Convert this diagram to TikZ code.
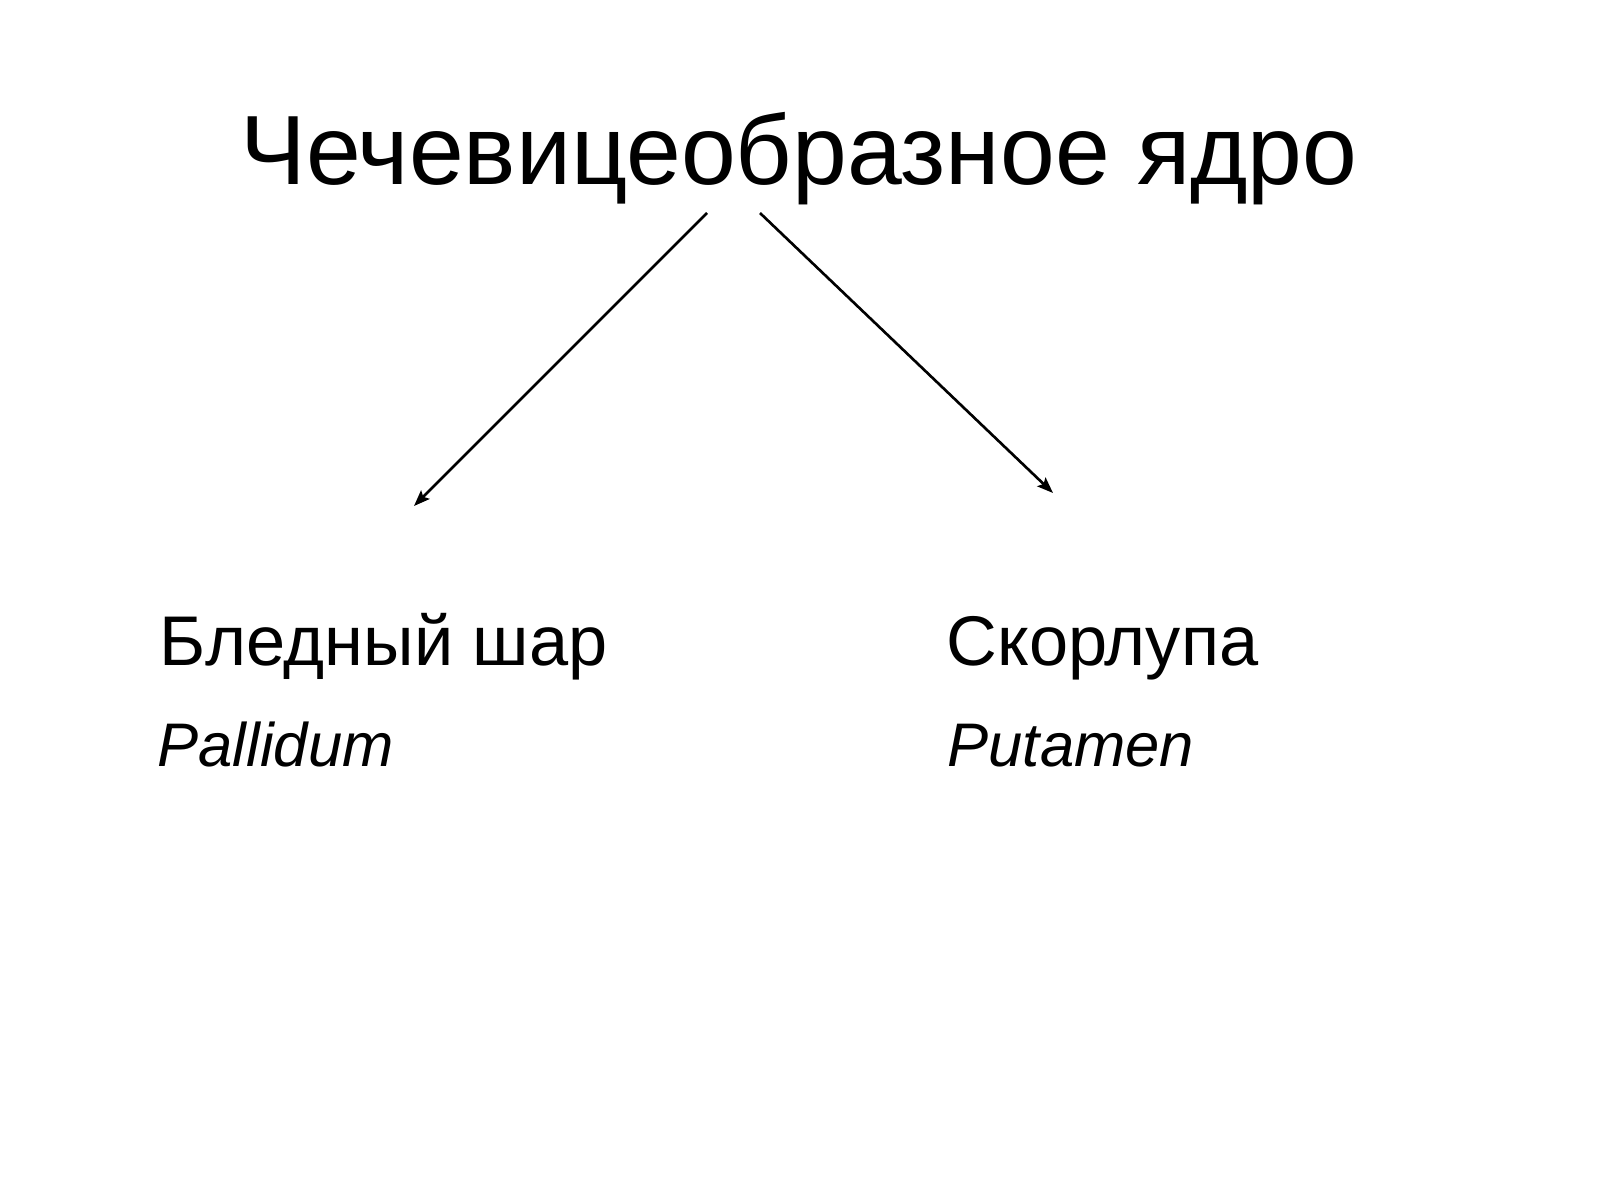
\documentclass[tikz,border=0pt]{standalone}
\usepackage{fontspec}
\setmainfont{Liberation Sans}
\usetikzlibrary{arrows.meta}
\begin{document}
\begin{tikzpicture}[x=0.01cm,y=-0.01cm,
  lbl/.style={inner sep=0pt, anchor=base west, font=\fontsize{20pt}{24pt}\selectfont},
  lat/.style={inner sep=0pt, anchor=base west, font=\fontsize{17.5pt}{21pt}\selectfont\itshape},
  conn/.style={line width=0.75pt, -{Stealth[length=1.6mm,width=1.2mm,inset=0.3mm]}}]
\fill[white] (0,0) rectangle (1600,1200);
\useasboundingbox (0,0) rectangle (1600,1200);
\node[inner sep=0pt, anchor=base, font=\fontsize{28pt}{34pt}\selectfont] (t) at (799,184) {Чечевицеобразное ядро};
\node[lbl] (bl) at (159,665) {Бледный шар};
\node[lat] (pal) at (157,766) {Pallidum};
\node[lbl] (sk) at (946,665) {Скорлупа};
\node[lat] (put) at (947,766) {Putamen};
\coordinate (s1) at (707,213);
\coordinate (e1) at (414,506);
\coordinate (s2) at (760,213);
\coordinate (e2) at (1053,493);
\draw[conn] (s1) -- (e1);
\draw[conn] (s2) -- (e2);
\end{tikzpicture}
\end{document}
